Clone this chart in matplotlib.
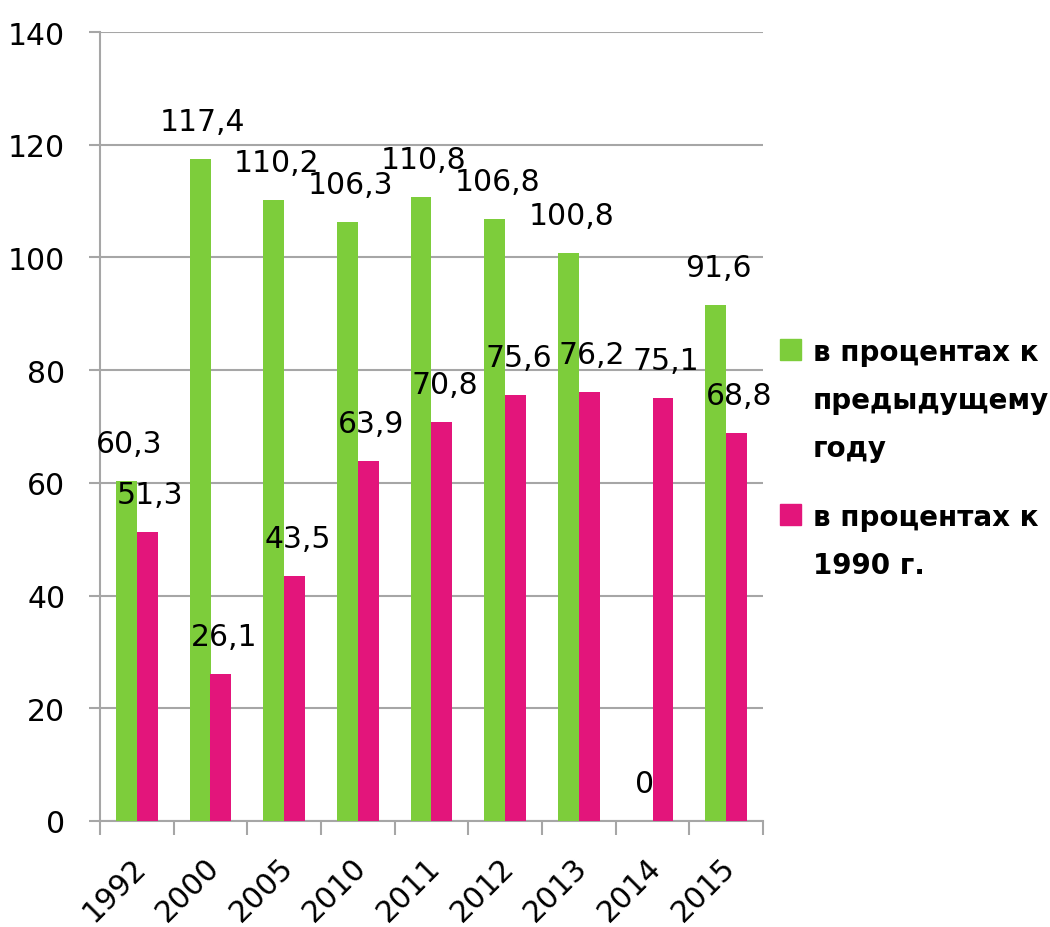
import matplotlib
matplotlib.use("Agg")
import matplotlib.pyplot as plt
import matplotlib.transforms as mtransforms
import numpy as np
from matplotlib.patches import Rectangle

years = ["1992", "2000", "2005", "2010", "2011", "2012", "2013", "2014", "2015"]
prev_year = [60.3, 117.4, 110.2, 106.3, 110.8, 106.8, 100.8, 0, 91.6]
to_1990 = [51.3, 26.1, 43.5, 63.9, 70.8, 75.6, 76.2, 75.1, 68.8]
series_names = ["в процентах к\nпредыдущему\nгоду", "в процентах к\n1990 г."]
yticks = [0, 20, 40, 60, 80, 100, 120, 140]

GREEN = "#7dcd3b"
PINK = "#e3157b"
GRID = "#a6a6a6"

plt.rcParams['font.family'] = ['DejaVu Sans']
fig = plt.figure(figsize=(10.5, 9.28), dpi=100)
ax = fig.add_axes([100/1050, 1-822/928, 663/1050, 789/928])

x = np.arange(len(years))
w = 0.285
b1 = ax.bar(x - w/2, prev_year, w, color=GREEN, zorder=3)
b2 = ax.bar(x + w/2, to_1990, w, color=PINK, zorder=3)

def fmt(v):
    s = f"{v:.1f}".replace(".", ",")
    if s.endswith(",0"):
        s = s[:-2]
    return s

for bars, vals in ((b1, prev_year), (b2, to_1990)):
    for r, v in zip(bars, vals):
        ax.annotate(fmt(v), (r.get_x() + r.get_width()/2, v), xytext=(2, 27),
                    textcoords="offset points", ha="center", va="center",
                    fontsize=21.5, color="black", zorder=5)

ax.set_xlim(-0.5, len(years) - 0.5)
ax.set_ylim(0, 140)
ax.set_yticks(yticks)
ax.set_yticklabels([str(t) for t in yticks], fontsize=21.5)
ax.yaxis.grid(True, color=GRID, linewidth=1.5, zorder=0)
ax.tick_params(axis="y", length=8, width=1.5, color=GRID, pad=17)

ax.set_xticks(np.arange(len(years) + 1) - 0.5)
ax.set_xticklabels([])
ax.tick_params(axis="x", which="major", length=10, width=1.5, color=GRID, direction="out")
ax.set_xticks(x, minor=True)
ax.set_xticklabels(years, minor=True, fontsize=21.5, rotation=45, ha="right",
                   rotation_mode="anchor")
ax.tick_params(axis="x", which="minor", length=0, pad=22)
shift = mtransforms.ScaledTranslation(-6/100, 0, fig.dpi_scale_trans)
for lab in ax.get_xticklabels(minor=True):
    lab.set_transform(lab.get_transform() + shift)

for s in ("top", "right"):
    ax.spines[s].set_visible(False)
for s in ("left", "bottom"):
    ax.spines[s].set_color(GRID)
    ax.spines[s].set_linewidth(1.5)

# legend drawn manually to match the layout
H, W = 928, 1050
items = [(GREEN, series_names[0], 340), (PINK, series_names[1], 505)]
for col, txt, ytop in items:
    fig.patches.append(Rectangle((780/W, 1-(ytop+21)/H), 21/W, 21/H,
                                 transform=fig.transFigure, color=col))
    fig.text(813/W, 1-(ytop-1)/H, txt, fontsize=20, fontweight="bold",
             va="top", ha="left", linespacing=1.9)

fig.savefig("out.png", dpi=100)
